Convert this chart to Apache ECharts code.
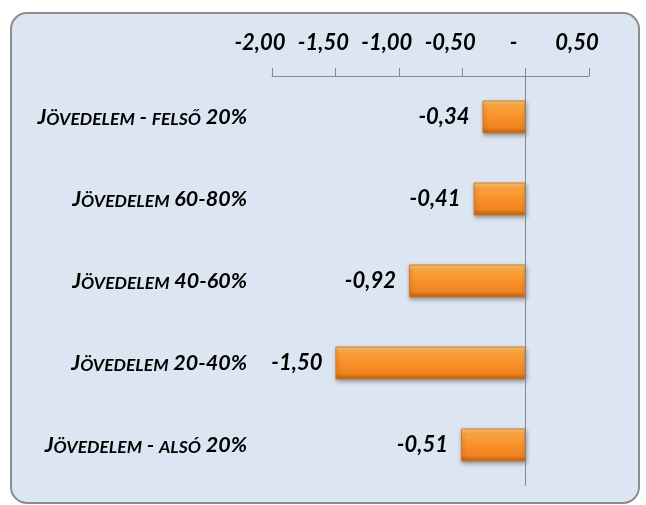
<!DOCTYPE html>
<html>
<head>
<meta charset="utf-8">
<script src="https://cdn.jsdelivr.net/npm/echarts@6/dist/echarts.min.js"></script>
<style>
html,body{margin:0;padding:0;background:#fff;}
#chart{width:646px;height:505px;}
</style>
</head>
<body>
<div id="chart"></div>
<script>
const categories = ['Jövedelem - felső 20%', 'Jövedelem 60-80%', 'Jövedelem 40-60%', 'Jövedelem 20-40%', 'Jövedelem - alsó 20%'];
const values = [-0.34, -0.41, -0.92, -1.50, -0.51];
const axisMin = -2;
const axisMax = 0.5;
const axisStep = 0.5;

const FONT = 'Lato, "Open Sans", "Liberation Sans", sans-serif';

function fmt(v) {
  if (Math.abs(v) < 1e-9) return '-';
  return v.toFixed(2).replace('.', ',');
}

// Small caps rendering: lowercase letters become small uppercase
function smallCaps(str) {
  let out = '';
  let cur = null, buf = '';
  for (const ch of str) {
    const isLower = ch !== ch.toUpperCase() && ch === ch.toLowerCase();
    const style = isLower ? 's' : 'b';
    const c = isLower ? ch.toUpperCase() : ch;
    if (style !== cur) {
      if (buf) out += '{' + cur + '|' + buf + '}';
      cur = style; buf = c;
    } else buf += c;
  }
  if (buf) out += '{' + cur + '|' + buf + '}';
  return out;
}

const chart = echarts.init(document.getElementById('chart'), null, {renderer: 'canvas'});
chart.setOption({
  backgroundColor: '#ffffff',
  animation: false,
  graphic: [{
    type: 'rect',
    z: -10,
    silent: true,
    shape: {x: 11, y: 13, width: 628, height: 490, r: 16},
    style: {fill: '#dce6f2', stroke: '#8c8c8c', lineWidth: 2}
  }],
  grid: {left: 272, right: 57, top: 76, bottom: 19, containLabel: false},
  xAxis: {
    type: 'value',
    position: 'top',
    min: axisMin,
    max: axisMax,
    interval: axisStep,
    splitLine: {show: false},
    axisLine: {show: true, onZero: false, lineStyle: {color: '#868686', width: 1}},
    axisTick: {show: true, length: 8, inside: false, lineStyle: {color: '#868686'}},
    axisLabel: {
      margin: 22,
      formatter: fmt,
      color: '#000',
      fontFamily: FONT,
      fontSize: 22,
      fontWeight: 'bold',
      fontStyle: 'italic',
      padding: [0, 24, 0, 0]
    }
  },
  yAxis: {
    type: 'category',
    data: categories,
    inverse: true,
    axisLine: {show: false, onZero: false},
    axisTick: {show: false},
    axisLabel: {
      margin: 25,
      align: 'right',
      formatter: smallCaps,
      rich: {
        b: {fontFamily: FONT, fontSize: 21.5, fontWeight: 'bold', fontStyle: 'italic', color: '#000', lineHeight: 23, verticalAlign: 'bottom'},
        s: {fontFamily: FONT, fontSize: 17.5, fontWeight: 'bold', fontStyle: 'italic', color: '#000', lineHeight: 19, verticalAlign: 'bottom'}
      }
    }
  },
  series: [{
    type: 'bar',
    data: values,
    barWidth: 33,
    itemStyle: {
      color: new echarts.graphic.LinearGradient(0, 0, 0, 1, [
        {offset: 0, color: '#fdd27f'},
        {offset: 0.18, color: '#faa23d'},
        {offset: 0.5, color: '#f8912a'},
        {offset: 0.82, color: '#ef8420'},
        {offset: 1, color: '#b85f16'}
      ]),
      borderColor: '#d9781f',
      borderWidth: 1,
      shadowColor: 'rgba(0,0,0,0.35)',
      shadowBlur: 4,
      shadowOffsetY: 2,
      shadowOffsetX: 1
    },
    label: {
      show: true,
      position: 'left',
      distance: 13,
      formatter: p => fmt(p.value),
      color: '#000',
      fontFamily: FONT,
      fontSize: 22,
      fontWeight: 'bold',
      fontStyle: 'italic'
    },
    markLine: {
      silent: true,
      symbol: 'none',
      label: {show: false},
      lineStyle: {color: '#868686', width: 1, type: 'solid'},
      data: [{xAxis: 0}]
    }
  }]
});
</script>
</body>
</html>
